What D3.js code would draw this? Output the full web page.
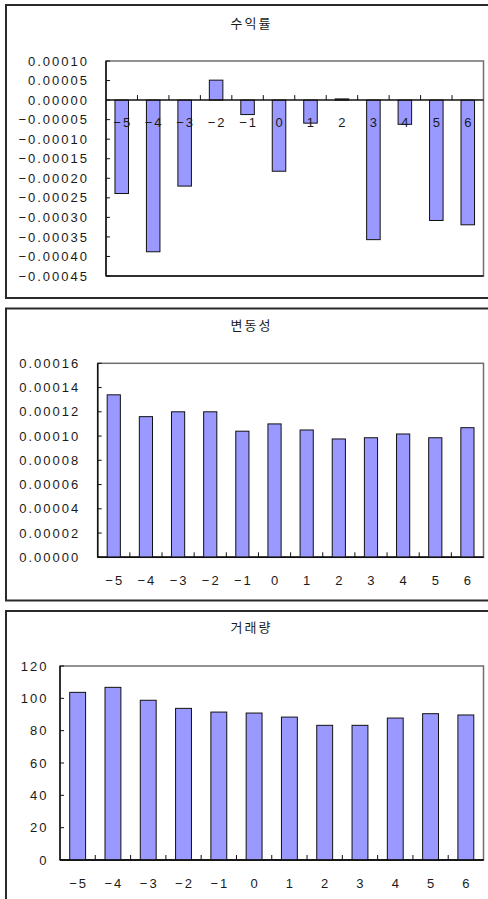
<!DOCTYPE html>
<html>
<head>
<meta charset="utf-8">
<script src="https://cdn.jsdelivr.net/npm/d3@7"></script>
<style>
  html, body { margin: 0; padding: 0; background: #fff; }
  svg { display: block; }
  .tick-label { font-family: "Liberation Sans", Arial, sans-serif; font-size: 13px; letter-spacing: 2px; fill: #1a1a1a; }
  .title { font-family: "Noto Sans CJK KR", sans-serif; font-size: 13px; letter-spacing: 2px; fill: #1a1a1a; }
</style>
</head>
<body>
<svg id="chart" width="488" height="899"></svg>
<script>
// Event window (days around the event)
const categories = [-5, -4, -3, -2, -1, 0, 1, 2, 3, 4, 5, 6];

// 수익률 (return)
const returnValues = [-0.000239, -0.000388, -0.000220, 0.000051, -0.000037, -0.000182,
                      -0.000059, 0.000003, -0.000357, -0.000062, -0.000308, -0.000319];
const returnTicks = [0.00010, 0.00005, 0, -0.00005, -0.00010, -0.00015, -0.00020,
                     -0.00025, -0.00030, -0.00035, -0.00040, -0.00045];

// 변동성 (volatility)
const volatilityValues = [0.000134, 0.000116, 0.000120, 0.000120, 0.000104, 0.000110,
                          0.000105, 0.0000976, 0.0000986, 0.0001017, 0.0000986, 0.0001069];
const volatilityTicks = [0, 0.00002, 0.00004, 0.00006, 0.00008, 0.00010, 0.00012, 0.00014, 0.00016];

// 거래량 (trading volume)
const volumeValues = [103.7, 106.8, 98.8, 93.8, 91.5, 90.9, 88.4, 83.3, 83.3, 87.8, 90.5, 89.7];
const volumeTicks = [0, 20, 40, 60, 80, 100, 120];

const titles = ["수익률", "변동성", "거래량"];

const svg = d3.select("#chart");
const catFmt = d3.format("d");

// Panel layout: outer frame, plot area, label placement
const panels = [
  { title: titles[0], values: returnValues, ticks: returnTicks, fmt: d3.format(".5f"),
    frame: { y: 5, h: 293 }, plot: { l: 106, t: 61, r: 483.5, b: 276 },
    titleY: 27.5, yLabelGap: 17, xLabelDy: 27.3, barRatio: 0.43 },
  { title: titles[1], values: volatilityValues, ticks: volatilityTicks, fmt: d3.format(".5f"),
    frame: { y: 308.5, h: 292 }, plot: { l: 97.7, t: 363.3, r: 483.5, b: 557.3 },
    titleY: 330, yLabelGap: 17.5, xLabelDy: 27.7, barRatio: 0.41 },
  { title: titles[2], values: volumeValues, ticks: volumeTicks, fmt: d3.format("d"),
    frame: { y: 611, h: 300 }, plot: { l: 60, t: 666, r: 483.5, b: 860 },
    titleY: 632, yLabelGap: 11.5, xLabelDy: 28.3, barRatio: 0.45 }
];

panels.forEach(p => {
  const g = svg.append("g");

  // outer frame
  g.append("rect")
    .attr("x", 6).attr("y", p.frame.y)
    .attr("width", 500).attr("height", p.frame.h)
    .attr("fill", "#fff").attr("stroke", "#2a2a2a").attr("stroke-width", 2);

  // title
  g.append("text").attr("class", "title")
    .attr("x", 251.5).attr("y", p.titleY)
    .attr("text-anchor", "middle")
    .text(p.title);

  const ext = d3.extent(p.ticks);
  const y = d3.scaleLinear().domain(ext).range([p.plot.b, p.plot.t]);
  const x = d3.scaleBand().domain(categories).range([p.plot.l, p.plot.r]).padding(0);
  const bw = x.bandwidth();
  const barW = bw * p.barRatio;
  const y0 = y(0);

  // plot area border
  g.append("rect")
    .attr("x", p.plot.l).attr("y", p.plot.t)
    .attr("width", p.plot.r - p.plot.l).attr("height", p.plot.b - p.plot.t)
    .attr("fill", "none").attr("stroke", "#6e6e6e").attr("stroke-width", 1.5);
  // bottom edge of the plot area in black
  g.append("line")
    .attr("x1", p.plot.l).attr("x2", p.plot.r)
    .attr("y1", p.plot.b).attr("y2", p.plot.b)
    .attr("stroke", "#111").attr("stroke-width", 1.5);

  // bars
  g.selectAll("rect.bar").data(p.values).join("rect")
    .attr("class", "bar")
    .attr("x", (d, i) => x(categories[i]) + (bw - barW) / 2)
    .attr("y", d => Math.min(y(d), y0))
    .attr("width", barW)
    .attr("height", d => Math.abs(y(d) - y0))
    .attr("fill", "#9999ff")
    .attr("stroke", "#111").attr("stroke-width", 1);

  // y axis line
  g.append("line")
    .attr("x1", p.plot.l).attr("x2", p.plot.l)
    .attr("y1", p.plot.t).attr("y2", p.plot.b)
    .attr("stroke", "#111").attr("stroke-width", 1.5);

  // y ticks (inside) and labels
  g.selectAll("line.ytick").data(p.ticks).join("line")
    .attr("x1", p.plot.l).attr("x2", p.plot.l + 4)
    .attr("y1", d => y(d)).attr("y2", d => y(d))
    .attr("stroke", "#111").attr("stroke-width", 1);
  g.selectAll("text.ylab").data(p.ticks).join("text")
    .attr("class", "tick-label ylab")
    .attr("x", p.plot.l - p.yLabelGap)
    .attr("y", d => y(d) + 4.6)
    .attr("text-anchor", "end")
    .text(d => p.fmt(d));

  // category axis at zero
  g.append("line")
    .attr("x1", p.plot.l).attr("x2", p.plot.r)
    .attr("y1", y0).attr("y2", y0)
    .attr("stroke", "#111").attr("stroke-width", 1.5);
  const bounds = categories.slice(1).map(c => x(c));
  g.selectAll("line.xtick").data(bounds).join("line")
    .attr("x1", d => d).attr("x2", d => d)
    .attr("y1", y0).attr("y2", y0 - 5)
    .attr("stroke", "#111").attr("stroke-width", 1);
  g.selectAll("text.xlab").data(categories).join("text")
    .attr("class", "tick-label xlab")
    .attr("x", c => x(c) + bw / 2 + 1)
    .attr("y", y0 + p.xLabelDy)
    .attr("text-anchor", "middle")
    .text(c => catFmt(c));
});
</script>
</body>
</html>
